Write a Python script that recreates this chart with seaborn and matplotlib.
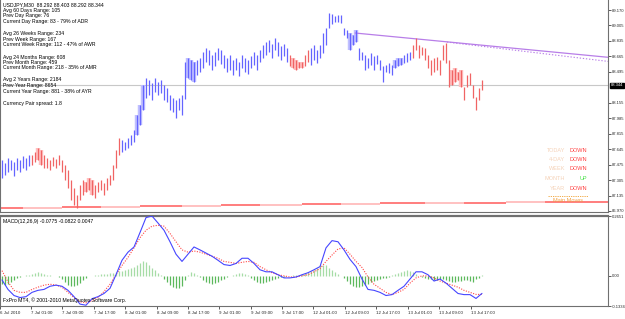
import numpy as np
import pandas as pd
import matplotlib
matplotlib.use("Agg")
import matplotlib.pyplot as plt
import seaborn as sns

# ---------------- data ----------------
highs = [87.53,87.49,87.55,87.53,87.50,87.55,87.53,87.57,87.55,87.58,
         87.58,87.61,87.66,87.64,87.58,87.55,87.53,87.56,87.54,87.58,
         87.53,87.47,87.42,87.31,87.22,87.14,87.25,87.31,87.29,87.33,
         87.31,87.25,87.29,87.31,87.27,87.33,87.36,87.47,87.64,87.77,
         87.75,87.72,87.77,87.80,87.86,88.02,88.13,88.35,88.43,88.40,
         88.37,88.43,88.38,88.40,88.35,88.32,88.24,88.21,88.18,88.21,
         88.24,88.60,88.64,88.62,88.60,88.62,88.64,88.71,88.75,88.73,
         88.68,88.71,88.75,88.73,88.68,88.64,88.68,88.62,88.64,88.60,
         88.68,88.64,88.62,88.67,88.71,88.68,88.73,88.79,88.82,88.84,
         88.80,88.86,88.82,88.78,88.80,88.75,88.68,88.64,88.62,88.60,
         88.60,88.68,88.73,88.75,88.79,88.73,88.79,88.92,88.97,89.14,
         89.13,89.10,89.12,89.12,88.97,88.95,88.92,88.90,88.95,88.75,
         88.71,88.68,88.64,88.70,88.67,88.68,88.62,88.56,88.57,88.59,
         88.57,88.62,88.64,88.64,88.68,88.70,88.71,88.79,88.86,88.79,
         88.76,88.75,88.68,88.62,88.64,88.65,88.62,88.79,88.81,88.62,
         88.51,88.53,88.49,88.51,88.33,88.46,88.48,88.35,88.22,88.32,
         88.403]
lows = [87.33,87.36,87.39,87.42,87.35,87.42,87.39,87.44,87.42,87.46,
        87.47,87.50,87.53,87.47,87.44,87.44,87.42,87.46,87.44,87.47,
        87.39,87.31,87.22,87.09,87.03,87.00,87.09,87.14,87.18,87.20,
        87.14,87.11,87.18,87.20,87.14,87.20,87.25,87.31,87.44,87.58,
        87.61,87.64,87.66,87.69,87.72,87.80,87.91,88.07,88.21,88.24,
        88.18,88.27,88.24,88.26,88.18,88.16,88.07,88.05,87.99,88.07,
        88.02,88.20,88.43,88.40,88.38,88.46,88.49,88.53,88.60,88.57,
        88.51,88.56,88.62,88.58,88.53,88.49,88.51,88.46,88.51,88.45,
        88.53,88.49,88.47,88.53,88.57,88.51,88.60,88.64,88.68,88.71,
        88.64,88.73,88.67,88.62,88.67,88.60,88.56,88.53,88.51,88.53,
        88.53,88.56,88.60,88.57,88.62,88.59,88.64,88.70,88.79,88.97,
        89.02,89.04,89.04,89.03,88.90,88.86,88.73,88.79,88.82,88.62,
        88.62,88.51,88.53,88.57,88.51,88.58,88.51,88.38,88.49,88.48,
        88.46,88.53,88.56,88.57,88.59,88.60,88.62,88.64,88.73,88.64,
        88.68,88.62,88.53,88.46,88.49,88.51,88.46,88.62,88.59,88.33,
        88.35,88.38,88.40,88.33,88.18,88.33,88.35,88.21,88.07,88.18,
        88.292]
bar_runs = [("b", 10), ("r", 30), ("b", 56), ("r", 7), ("b", 34), ("r", 24)]
pink_shade = [12, 13, 28, 29, 30, 97, 98, 99, 100, 150, 151, 152, 153]
blue_shade = [45, 46, 47, 62, 63, 64, 116, 117, 118, 131, 132, 133]

macd = [-0.018,-0.060,-0.087,-0.096,-0.092,-0.073,-0.064,-0.060,-0.046,-0.041,
        -0.046,-0.064,-0.092,-0.125,-0.130,-0.101,-0.092,-0.078,-0.055,0.005,
        0.069,0.105,0.128,0.192,0.258,0.265,0.234,0.202,0.151,0.096,
        0.064,0.096,0.128,0.115,0.101,0.087,0.069,0.050,0.046,0.055,
        0.078,0.078,0.055,0.027,0.018,0.018,0.005,-0.009,-0.009,-0.005,
        0.005,0.014,0.027,0.041,0.124,0.156,0.151,0.115,0.073,0.041,
        -0.014,-0.060,-0.064,-0.073,-0.087,-0.083,-0.064,-0.046,-0.014,0.018,
        0.018,0.005,-0.023,-0.014,-0.032,-0.055,-0.078,-0.083,-0.083,-0.100,
        -0.0775]
signal = [0.023,-0.027,-0.064,-0.073,-0.073,-0.060,-0.050,-0.041,-0.037,-0.041,
          -0.050,-0.073,-0.096,-0.115,-0.119,-0.110,-0.096,-0.069,-0.037,0.005,
          0.046,0.082,0.124,0.169,0.202,0.220,0.224,0.220,0.188,0.151,
          0.115,0.105,0.110,0.105,0.096,0.087,0.078,0.064,0.060,0.055,
          0.060,0.064,0.060,0.041,0.027,0.014,0.005,0.000,-0.005,-0.005,
          0.000,0.005,0.018,0.032,0.064,0.092,0.119,0.124,0.096,0.064,
          0.037,-0.005,-0.037,-0.055,-0.073,-0.083,-0.073,-0.060,-0.032,-0.009,
          0.000,0.000,-0.009,-0.023,-0.032,-0.041,-0.050,-0.064,-0.073,-0.082,
          -0.0822]
osma = [-0.037,-0.041,-0.037,-0.027,-0.018,
        -0.009,-0.005,0.0,0.005,0.005,
        0.009,0.014,0.018,0.014,0.009,
        0.005,0.005,0.0,0.0,-0.005,
        -0.014,-0.027,-0.041,-0.046,-0.046,-0.041,-0.032,
        -0.018,-0.009,0.0,0.0,0.005,0.005,
        0.009,0.009,0.009,0.014,0.014,
        0.018,0.023,0.023,0.027,0.032,0.037,0.041,0.046,0.055,0.064,0.060,0.050,
        0.037,0.027,0.014,0.005,
        -0.014,-0.027,-0.041,-0.050,-0.055,-0.055,-0.046,
        -0.018,0.005,0.018,
        0.014,0.005,-0.005,
        -0.018,-0.027,-0.032,-0.037,-0.032,-0.027,-0.018,-0.014,
        -0.005,0.0,0.005,0.009,0.014,
        0.014,0.009,0.005,
        -0.009,-0.018,-0.027,-0.032,-0.032,-0.027,-0.023,-0.018,-0.014,-0.009,-0.005,
        -0.005,0.0,0.0,0.005,0.005,0.005,
        0.009,0.014,0.018,0.023,0.027,0.037,0.046,0.050,0.046,0.037,0.027,
        0.018,0.009,0.0,-0.009,
        -0.023,-0.037,-0.046,-0.050,-0.050,-0.046,-0.041,-0.037,
        -0.027,-0.023,-0.018,-0.014,-0.009,-0.009,-0.005,
        0.005,0.009,0.014,0.018,0.023,0.027,0.023,0.018,
        0.009,0.0,-0.005,-0.009,-0.014,-0.014,-0.018,-0.018,
        -0.014,-0.014,-0.018,-0.023,-0.027,-0.027,-0.023,-0.023,-0.018,-0.018,
        -0.023,-0.027,-0.014,-0.009,0.0047]

ma_edges = [-1, 7, 20, 33, 46, 60, 73, 86, 100, 113, 126, 141, 154, 168, 181, 202]
ma_vals = [86.995, 87.000, 87.006, 87.011, 87.017, 87.022, 87.028, 87.033,
           87.039, 87.044, 87.050, 87.055, 87.059, 87.063, 87.066]

trend_solid_x = [117.7, 202.0]
trend_solid_y = [88.918, 88.652]
trend_dash_x = [148.3, 202.0]
trend_dash_y = [88.819, 88.607]

last_price = 88.344
price_ticks = [89.170, 89.005, 88.835, 88.665, 88.495, 88.155, 87.985,
               87.815, 87.645, 87.475, 87.305, 87.135, 86.970]
macd_ticks = [0.2651, 0.0, -0.1334]
macd_tick_labels = ["0.2651", "0.00", "-0.1334"]
time_ticks = [-0.67, 9.67, 20.0, 30.67, 41.0, 51.67, 62.0, 72.33, 83.0,
              93.33, 103.67, 114.33, 124.67, 135.33, 145.67, 156.33]
time_labels = ["6 Jul 2010", "7 Jul 01:00", "7 Jul 09:00", "7 Jul 17:00",
               "8 Jul 01:00", "8 Jul 09:00", "8 Jul 17:00", "9 Jul 01:00",
               "9 Jul 09:00", "9 Jul 17:00", "12 Jul 01:00", "12 Jul 09:00",
               "12 Jul 17:00", "13 Jul 01:00", "13 Jul 09:00", "13 Jul 17:00"]

info_lines = [
    ("USDJPY,M30  88.292 88.403 88.292 88.344", 5),
    ("Avg 60 Days Range: 105", 10.5),
    ("Prev Day Range: 76", 16),
    ("Current Day Range: 83 - 79% of ADR", 21.5),
    ("Avg 26 Weeks Range: 234", 33.5),
    ("Prev Week Range: 167", 39),
    ("Current Week Range: 112 - 47% of AWR", 44.5),
    ("Avg 24 Months Range: 608", 57),
    ("Prev Month Range: 459", 62.5),
    ("Current Month Range: 218 - 35% of AMR", 68),
    ("Avg 2 Years Range: 2184", 80),
    ("Prev Year Range: 8654", 85.5),
    ("Current Year Range: 881 - 38% of AYR", 91),
    ("Currency Pair spread: 1.8", 104),
]
move_labels = ["TODAY", "4-DAY", "WEEK", "MONTH", "YEAR"]
move_values = ["DOWN", "DOWN", "DOWN", "UP", "DOWN"]

# ---------------- styling ----------------
sns.set_theme(style="white")
plt.rcParams["font.family"] = ["Liberation Sans", "DejaVu Sans"]

W, H = 625, 319
fig = plt.figure(figsize=(W / 100, H / 100), dpi=100)
ax = fig.add_axes([0, 107 / H, 608 / W, 212 / H])
ax2 = fig.add_axes([0, 13 / H, 608 / W, 90 / H])

n = len(highs)
x = np.arange(n)
colors = []
for c, k in bar_runs:
    colors += [c] * k
col_map = {"b": "#6464ff", "r": "#f06464"}
bar_cols = [col_map[c] for c in colors]

df = pd.DataFrame({"x": x, "high": highs, "low": lows, "col": bar_cols})

# shading
ax.vlines(df.loc[pink_shade, "x"], df.loc[pink_shade, "low"], df.loc[pink_shade, "high"],
          colors="#ffc0c0", linewidth=3.2, zorder=1)
ax.vlines(df.loc[blue_shade, "x"], df.loc[blue_shade, "low"], df.loc[blue_shade, "high"],
          colors="#c0c0ff", linewidth=3.2, zorder=1)
ax.vlines(df["x"], df["low"], df["high"], colors=df["col"], linewidth=0.9, zorder=3)

ax.axhline(last_price, color="#c8c8c8", linewidth=0.8, zorder=0)

# main moves line
for i, v in enumerate(ma_vals):
    ax.hlines(v, ma_edges[i], ma_edges[i + 1], colors="#ff5a5a" if i % 2 == 0 else "#ffb0b0",
              linewidth=1.1, zorder=2)

sns.lineplot(x=trend_solid_x, y=trend_solid_y, ax=ax, color="#b87ee8", linewidth=0.9)
sns.lineplot(x=trend_dash_x, y=trend_dash_y, ax=ax, color="#b87ee8", linewidth=0.8,
             linestyle=(0, (1.2, 1.6)))

ax.set_xlim(-0.667, 202)
ax.set_ylim(86.956, 89.28)
ax.yaxis.tick_right()
ax.set_yticks(price_ticks)
ax.set_yticklabels([f"{v:.3f}" for v in price_ticks])
ax.tick_params(axis="y", direction="out", length=2, width=0.6, color="#404040",
               labelsize=3.0, pad=0.6, right=True)
ax.set_xticks([])
for s in ["left", "right", "bottom"]:
    ax.spines[s].set_color("#707070")
    ax.spines[s].set_linewidth(0.8)
ax.spines["top"].set_visible(False)
ax.set_xlabel("")
ax.set_ylabel("")

trans = ax.get_yaxis_transform()
ax.text(1.0045, last_price, f"{last_price:.3f}", transform=trans, fontsize=3.0, color="white",
        ha="left", va="center",
        bbox=dict(boxstyle="square,pad=0.12", facecolor="black", edgecolor="black"))

for txt, ypx in info_lines:
    ax.text(3 / 608, 1 - ypx / 212, txt, transform=ax.transAxes, fontsize=3.7,
            color="black", ha="left", va="center")

for k, (lab, val) in enumerate(zip(move_labels, move_values)):
    ypx = 150 + k * 9.5
    ax.text(565 / 608, 1 - ypx / 212, lab, transform=ax.transAxes, fontsize=4,
            color="#f5d2b8", ha="right", va="center")
    ax.text(587 / 608, 1 - ypx / 212, val, transform=ax.transAxes, fontsize=4,
            color="#40e040" if val == "UP" else "#ff3c3c", ha="right", va="center")
ax.plot([548 / 608, 588 / 608], [1 - 196 / 212] * 2, transform=ax.transAxes,
        color="#f0a030", linewidth=0.6, linestyle=(0, (1.5, 1.2)))
ax.text(568 / 608, 1 - 200 / 212, "Main Moves", transform=ax.transAxes, fontsize=4,
        color="#f0a040", ha="center", va="center")

# ---------------- MACD panel ----------------
xm = x[::2]
hist_cols = ["#a6dca6" if v > 0 else "#5cb85c" for v in osma]
ax2.vlines(x, 0, osma, colors=hist_cols, linewidth=0.9, zorder=1)
sns.lineplot(x=xm, y=macd, ax=ax2, color="#4646ff", linewidth=0.8, zorder=3)
sns.lineplot(x=xm, y=signal, ax=ax2, color="#ff4646", linewidth=0.8,
             linestyle=(0, (1, 1.3)), zorder=2)
ax2.set_xlim(-0.667, 202)
ax2.set_ylim(-0.1334, 0.2651)
ax2.yaxis.tick_right()
ax2.set_yticks(macd_ticks)
ax2.set_yticklabels(macd_tick_labels)
ax2.tick_params(axis="y", direction="out", length=2, width=0.6, color="#404040",
                labelsize=3.0, pad=0.6, right=True)
ax2.set_xticks(time_ticks)
ax2.set_xticklabels(time_labels)
ax2.tick_params(axis="x", direction="out", length=2.5, width=0.6, color="#404040",
                labelsize=3.2, pad=1.2, bottom=True)
for lab in ax2.get_xticklabels():
    lab.set_ha("left")
for s in ["left", "right", "bottom", "top"]:
    ax2.spines[s].set_color("#707070")
    ax2.spines[s].set_linewidth(0.8)
ax2.spines["top"].set_linewidth(1.6)
ax2.set_xlabel("")
ax2.set_ylabel("")
ax2.text(3 / 608, 1 - 5 / 90, "MACD(12,26,9) -0.0775 -0.0822 0.0047", transform=ax2.transAxes,
         fontsize=3.7, color="black", ha="left", va="center")
ax2.text(3 / 608, 6 / 90, "FxPro MT4, \u00a9 2001-2010 MetaQuotes Software Corp.",
         transform=ax2.transAxes, fontsize=3.7, color="black", ha="left", va="center")

fig.savefig("out.png", dpi=100)
